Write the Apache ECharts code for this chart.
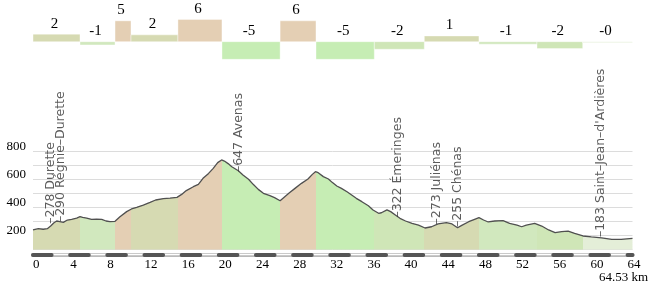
<!DOCTYPE html>
<html><head><meta charset="utf-8">
<script src="https://cdn.jsdelivr.net/npm/echarts@6/dist/echarts.min.js"></script>
<style>html,body{margin:0;padding:0;background:#fff}#c{width:650px;height:288px}</style>
</head><body><div id="c"></div>
<script>
// ---- data ----
const distanceKm = [0, 0.57, 1.1, 1.54, 1.9, 2.26, 2.55, 2.9, 3.26, 3.7, 4.16, 4.7, 5.06, 5.35, 5.78, 6.3, 6.85, 7.4, 7.86, 8.29, 8.83, 9.36, 10.08, 10.6, 11.16, 11.87, 12.6, 13.2, 14.03, 14.75, 15.5, 16.0, 16.5, 17.26, 17.8, 18.3, 18.9, 19.4, 19.88, 20.3, 20.6, 21.0, 21.4, 22.1, 22.6, 23.2, 23.7, 24.25, 24.8, 25.5, 26.0, 26.6, 27.1, 27.6, 28.2, 28.9, 29.6, 30.07, 30.4, 30.7, 31.25, 31.8, 32.2, 32.7, 33.2, 33.8, 34.3, 34.8, 35.4, 36.1, 36.6, 37.2, 37.5, 38.1, 38.5, 39.0, 39.5, 40.1, 40.8, 41.5, 42.2, 42.9, 43.6, 44.5, 45.1, 45.7, 46.1, 46.9, 47.6, 48.0, 48.5, 49.0, 49.7, 50.6, 51.3, 52.1, 52.6, 53.1, 54.0, 54.76, 55.5, 56.2, 56.9, 57.6, 58.3, 59.2, 60.1, 61.2, 62.3, 63.3, 64.53];
const elevationM = [241, 250, 246, 250, 269, 293, 305, 300, 295, 312, 317, 326, 336, 331, 326, 317, 319, 317, 305, 300, 303, 336, 372, 391, 403, 419, 438, 455, 465, 469, 474, 495, 522, 550, 567, 610, 645, 681, 722, 741, 733, 715, 693, 664, 634, 603, 567, 531, 503, 486, 472, 450, 479, 507, 538, 574, 605, 638, 657, 650, 622, 605, 581, 555, 538, 514, 491, 467, 443, 414, 384, 360, 364, 384, 372, 348, 324, 305, 288, 276, 255, 264, 284, 293, 284, 257, 272, 300, 319, 329, 312, 298, 305, 307, 288, 276, 264, 276, 288, 269, 241, 222, 229, 233, 217, 198, 191, 184, 174, 174, 181];
const segmentBounds = [0, 5.06, 8.83, 10.55, 15.6, 20.34, 26.6, 30.46, 36.74, 42.12, 48.0, 54.25, 59.17, 64.53];
const gradeValues = [2.1, -0.9, 5.8, 1.9, 6.2, -4.9, 5.8, -4.9, -2.1, 1.6, -0.7, -1.9, -0.3];
const gradeLabels = ['2', '-1', '5', '2', '6', '-5', '6', '-5', '-2', '1', '-1', '-2', '-0'];
const placeKm = [1.94, 2.95, 22.2, 39.3, 43.5, 45.7, 61.1];
const placeElev = [278, 290, 647, 322, 273, 255, 183];
const placeNames = ['Durette', 'Régnie–Durette', 'Avenas', 'Émeringes', 'Juliénas', 'Chénas', "Saint–Jean–d'Ardières"];
const xTicks = [0, 4, 8, 12, 16, 20, 24, 28, 32, 36, 40, 44, 48, 52, 56, 60, 64];
const yTicks = [200, 400, 600, 800];
const totalLabel = '64.53 km';

// ---- layout / style ----
const L = 33, R = 17.5, W = 650 - L - R;
const kmMax = segmentBounds[segmentBounds.length - 1];
const pxPerKm = W / kmMax;
const serif = '"Liberation Serif", "Times New Roman", serif';
const sans = '"DejaVu Sans", Verdana, sans-serif';

function gradeColor(g) {
  if (g >= 4) return '#e4cfb4';
  if (g >= 1) return '#d6dab2';
  if (g > -0.5) return '#e4eed8';
  if (g > -1.5) return '#d1e8be';
  if (g > -3) return '#cfe6b7';
  return '#c6edb4';
}

const profileData = distanceKm.map((d, i) => [d, elevationM[i]]);
const segData = gradeValues.map((g, i) => [segmentBounds[i], segmentBounds[i + 1], g]);
const pieces = gradeValues.map((g, i) => {
  const p = { gte: segmentBounds[i], color: gradeColor(g) };
  if (i === gradeValues.length - 1) p.lte = segmentBounds[i + 1] + 1; else p.lt = segmentBounds[i + 1];
  return p;
});
const placeData = placeKm.map((k, i) => [k, placeElev[i], placeNames[i]]);

const xBase = { type: 'value', min: 0, max: kmMax, interval: 4, gridIndex: 0, position: 'bottom', offset: 5,
  splitLine: { show: false }, axisTick: { show: false } };

const chart = echarts.init(document.getElementById('c'));
chart.setOption({
  animation: false,
  grid: [
    { left: L, right: R, top: 151.7, bottom: 38.3 },
    { left: L, right: R, top: 12.9, height: 50.4 }
  ],
  xAxis: [
    Object.assign({}, xBase, { z: 2, axisLine: { show: true, onZero: false, lineStyle: { color: '#b9b9b9', width: 4 } },
      axisLabel: { show: true, formatter: v => xTicks.includes(v) ? String(v) : '', align: 'left', margin: 3,
        fontFamily: serif, fontSize: 13, color: '#000' } }),
    Object.assign({}, xBase, { z: 3, axisLine: { show: true, onZero: false, lineStyle: { color: '#ffffff', width: 1.4 } },
      axisLabel: { show: false } }),
    Object.assign({}, xBase, { z: 4, axisLine: { show: true, onZero: false, lineStyle: { color: '#555', width: 4, type: [2 * pxPerKm, 2 * pxPerKm] } },
      axisLabel: { show: false } }),
    { type: 'value', min: 0, max: kmMax, gridIndex: 1, show: false }
  ],
  yAxis: [
    { type: 'value', gridIndex: 0, min: 100, max: 800, interval: 100,
      axisLine: { show: false }, axisTick: { show: false },
      splitLine: { lineStyle: { color: '#dcdcdc', width: 1 } },
      axisLabel: { formatter: v => yTicks.includes(v) ? String(v) : '', fontFamily: serif, fontSize: 13, color: '#000',
        margin: 7, verticalAlign: 'bottom', lineHeight: 11 } },
    { type: 'value', gridIndex: 1, min: -6, max: 8, show: false }
  ],
  visualMap: { type: 'piecewise', show: false, dimension: 0, seriesIndex: 0, pieces: pieces },
  series: [
    { type: 'line', xAxisIndex: 0, yAxisIndex: 0, data: profileData, symbol: 'none', silent: true,
      lineStyle: { width: 0 }, areaStyle: { opacity: 1 }, z: 1 },
    { type: 'line', xAxisIndex: 0, yAxisIndex: 0, data: profileData, symbol: 'none', silent: true,
      lineStyle: { color: '#505050', width: 1.3 }, z: 3 },
    { type: 'scatter', xAxisIndex: 0, yAxisIndex: 0, data: placeData, symbolSize: 0, silent: true, z: 4,
      label: { show: true, formatter: p => '–' + p.value[1] + ' ' + p.value[2], rotate: 90, position: 'inside',
        align: 'left', verticalAlign: 'middle', fontFamily: sans, fontSize: 12.5, color: '#333', offset: [1, 0] } },
    { type: 'custom', xAxisIndex: 3, yAxisIndex: 1, data: segData, silent: true,
      renderItem: function (params, api) {
        const s = api.value(0), e = api.value(1), g = api.value(2);
        const p0 = api.coord([s, 0]), p1 = api.coord([e, g]);
        const x = p0[0], w = p1[0] - p0[0];
        const top = Math.min(p0[1], p1[1]);
        const h = Math.max(Math.abs(p1[1] - p0[1]), 1);
        return { type: 'group', children: [
          { type: 'rect', shape: { x: x, y: top, width: w, height: h },
            style: { fill: gradeColor(g), stroke: 'rgba(255,255,255,0.4)', lineWidth: 1 } },
          { type: 'text', style: { text: gradeLabels[params.dataIndex], x: x + w / 2 - 2, y: top - 10.5,
            align: 'center', verticalAlign: 'middle', fontFamily: serif, fontSize: 15, fill: '#000' } }
        ] };
      } }
  ],
  graphic: [
    { type: 'text', right: 2, top: 271, style: { text: totalLabel, fontFamily: serif, fontSize: 13, fill: '#000' } }
  ]
});
</script></body></html>
